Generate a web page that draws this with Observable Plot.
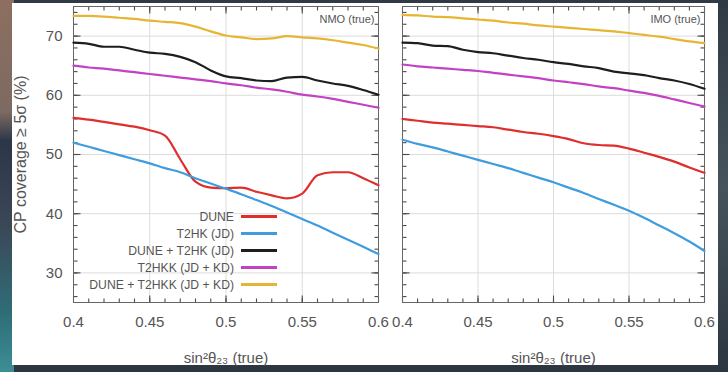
<!DOCTYPE html>
<html>
<head>
<meta charset="utf-8">
<script src="https://cdn.jsdelivr.net/npm/d3@7"></script>
<script src="https://cdn.jsdelivr.net/npm/@observablehq/plot@0.6"></script>
<style>
  html, body { margin: 0; padding: 0; }
  body {
    width: 728px; height: 372px; overflow: hidden;
    background: linear-gradient(#2f3a44, #46525c 50%, #2b3640);
    font-family: "Liberation Sans", Arial, sans-serif;
  }
  #stage { position: relative; width: 728px; height: 372px; }
  #edge {
    position: absolute; left: 0; top: 0; width: 14px; height: 372px;
    background: linear-gradient(#8c6f60 0%, #7d6a62 30%, #2b3648 38%, #3b4656 60%, #2f6f78 85%, #3c8e96 100%);
  }
  #sheet { position: absolute; left: 12px; top: 3px; width: 706px; height: 362px; background: #fff; }
  .panel { position: absolute; top: 0; }
  .panel svg { overflow: visible; }
  #legend {
    position: absolute; left: 60px; top: 208px; width: 217px;
    font-size: 12.2px; color: #555;
  }
  #legend .row { display: flex; justify-content: flex-end; align-items: center; height: 17px; }
  #legend .sw { width: 36px; height: 3px; margin-left: 7px; flex: none; }
</style>
</head>
<body>
<div id="stage">
  <div id="edge"></div>
  <div id="sheet"></div>
  <div id="left" class="panel" style="left:0px"></div>
  <div id="right" class="panel" style="left:390px"></div>
  <div id="legend"></div>
</div>
<script>
// sin^2(theta_23) sample points shared by every curve
const s23 = [0.40, 0.41, 0.42, 0.43, 0.44, 0.45, 0.46, 0.47, 0.48, 0.49, 0.50,
             0.51, 0.52, 0.53, 0.54, 0.55, 0.56, 0.57, 0.58, 0.59, 0.60];

const seriesNames = ["DUNE", "T2HK (JD)", "DUNE + T2HK (JD)", "T2HKK (JD + KD)", "DUNE + T2HKK (JD + KD)"];
const seriesColors = ["#de2f2c", "#3f9ddf", "#1e1e1e", "#c143c4", "#e6b534"];

// CP coverage >= 5 sigma (%), normal mass ordering
const nmoDune      = [56.2, 55.9, 55.5, 55.1, 54.7, 54.1, 53.2, 49.2, 45.4, 44.4, 44.3,
                      44.4, 43.7, 43.1, 42.6, 43.4, 46.5, 47.0, 47.0, 46.0, 44.8];
const nmoT2hk      = [52.0, 51.3, 50.6, 49.9, 49.2, 48.5, 47.7, 47.0, 46.0, 45.1, 44.2,
                      43.3, 42.3, 41.3, 40.2, 39.1, 38.0, 36.8, 35.6, 34.4, 33.2];
const nmoDuneT2hk  = [68.9, 68.7, 68.2, 68.2, 67.7, 67.2, 67.0, 66.5, 65.6, 64.2, 63.2,
                      62.9, 62.5, 62.4, 63.0, 63.1, 62.5, 62.0, 61.6, 60.9, 60.1];
const nmoT2hkk     = [65.0, 64.7, 64.5, 64.2, 63.9, 63.6, 63.3, 63.0, 62.7, 62.4, 62.0,
                      61.7, 61.3, 61.0, 60.6, 60.1, 59.8, 59.4, 58.9, 58.4, 57.9];
const nmoDuneT2hkk = [73.4, 73.4, 73.3, 73.1, 72.9, 72.6, 72.4, 72.2, 71.6, 70.8, 70.1,
                      69.8, 69.5, 69.6, 70.0, 69.8, 69.6, 69.3, 68.9, 68.5, 67.9];

// CP coverage >= 5 sigma (%), inverted mass ordering
const imoDune      = [56.0, 55.7, 55.4, 55.2, 55.0, 54.8, 54.6, 54.2, 53.8, 53.5, 53.1,
                      52.6, 51.9, 51.6, 51.5, 51.0, 50.3, 49.6, 48.8, 47.8, 46.9];
const imoT2hk      = [52.5, 51.8, 51.2, 50.5, 49.8, 49.1, 48.4, 47.7, 46.9, 46.1, 45.3,
                      44.4, 43.5, 42.5, 41.5, 40.5, 39.3, 38.0, 36.7, 35.3, 33.7];
const imoDuneT2hk  = [68.9, 68.8, 68.4, 68.3, 67.7, 67.3, 67.1, 66.7, 66.3, 66.0, 65.6,
                      65.3, 64.9, 64.6, 64.0, 63.7, 63.4, 62.9, 62.5, 61.9, 61.1];
const imoT2hkk     = [65.2, 64.9, 64.7, 64.5, 64.3, 64.1, 63.8, 63.5, 63.2, 62.9, 62.5,
                      62.2, 61.9, 61.5, 61.2, 60.8, 60.4, 59.9, 59.3, 58.7, 58.1];
const imoDuneT2hkk = [73.6, 73.5, 73.3, 73.2, 73.0, 72.8, 72.6, 72.3, 72.1, 71.8, 71.6,
                      71.4, 71.2, 71.0, 70.8, 70.5, 70.2, 69.9, 69.5, 69.1, 68.8];

// axis ticks
const xDomain = [0.4, 0.6];
const yDomain = [25, 75];
const xMajor = [0.4, 0.45, 0.5, 0.55, 0.6];
const xMinor = d3.range(1, 20).map(i => 0.4 + i * 0.01);
const yMajor = [30, 40, 50, 60, 70];
const yMinor = d3.range(26, 75, 2);

function rows(valuesList) {
  return valuesList.flatMap((vals, k) =>
    s23.map((x, i) => ({x, y: vals[i], series: seriesNames[k]})));
}

const tickColor = "#4a4a4a";
const frameHeight = 296;

// short segments on all four frame edges, pointing inwards (length in pixels)
function inwardTicks(xs, ys, len, frameWidth) {
  const dy = len * (yDomain[1] - yDomain[0]) / frameHeight;
  const dx = len * (xDomain[1] - xDomain[0]) / frameWidth;
  const o = {stroke: tickColor, strokeWidth: 1.1};
  return [
    Plot.link(xs, {...o, x1: d => d, x2: d => d, y1: () => yDomain[0], y2: () => yDomain[0] + dy}),
    Plot.link(xs, {...o, x1: d => d, x2: d => d, y1: () => yDomain[1], y2: () => yDomain[1] - dy}),
    Plot.link(ys, {...o, y1: d => d, y2: d => d, x1: () => xDomain[0], x2: () => xDomain[0] + dx}),
    Plot.link(ys, {...o, y1: d => d, y2: d => d, x1: () => xDomain[1], x2: () => xDomain[1] - dx})
  ];
}

function panel({data, tag, frameWidth, marginLeft, marginRight, yLabels}) {
  return Plot.plot({
    width: marginLeft + frameWidth + marginRight,
    height: 372,
    marginTop: 6,
    marginBottom: 70,
    marginLeft,
    marginRight,
    style: {background: "transparent", fontFamily: "'Liberation Sans', Arial, sans-serif", overflow: "visible"},
    x: {domain: xDomain},
    y: {domain: yDomain},
    color: {domain: seriesNames, range: seriesColors},
    marks: [
      Plot.gridX(xMajor, {stroke: "#dcdcdc", strokeOpacity: 1}),
      Plot.gridY(yMajor, {stroke: "#dcdcdc", strokeOpacity: 1}),
      ...inwardTicks(xMinor, yMinor, 4, frameWidth),
      ...inwardTicks(xMajor, yMajor, 7, frameWidth),
      Plot.axisX(xMajor, {
        anchor: "bottom", tickSize: 0, tickPadding: 14,
        tickFormat: d => String(d), fontSize: 15, color: "#555",
        label: "sin²θ₂₃ (true)", labelAnchor: "center", labelArrow: "none", labelOffset: 60
      }),
      yLabels
        ? Plot.axisY(yMajor, {anchor: "left", tickSize: 0, tickPadding: 11, fontSize: 15, color: "#555", label: null})
        : Plot.axisY(yMajor, {anchor: "left", tickSize: 0, tickFormat: () => "", label: null}),
      yLabels
        ? Plot.text(["CP coverage ≥ 5σ (%)"], {frameAnchor: "left", dx: -53, rotate: -90, textAnchor: "middle", fontSize: 16, fill: "#555"})
        : null,
      Plot.frame({stroke: "#666"}),
      Plot.line(data, {x: "x", y: "y", z: "series", stroke: "series", strokeWidth: 2.2, curve: "monotone-x"}),
      Plot.text([tag], {frameAnchor: "top-right", dx: -4, dy: 9, fontSize: 11, fill: "#555", textAnchor: "end"})
    ]
  });
}

document.getElementById("left").append(panel({
  data: rows([nmoDune, nmoT2hk, nmoDuneT2hk, nmoT2hkk, nmoDuneT2hkk]),
  tag: "NMO (true)", frameWidth: 305, marginLeft: 73, marginRight: 12, yLabels: true
}));
document.getElementById("right").append(panel({
  data: rows([imoDune, imoT2hk, imoDuneT2hk, imoT2hkk, imoDuneT2hkk]),
  tag: "IMO (true)", frameWidth: 302, marginLeft: 12, marginRight: 14, yLabels: false
}));

// legend for the five configurations
const legend = document.getElementById("legend");
seriesNames.forEach((name, i) => {
  const row = document.createElement("div");
  row.className = "row";
  const label = document.createElement("span");
  label.textContent = name;
  const sw = document.createElement("span");
  sw.className = "sw";
  sw.style.background = seriesColors[i];
  row.append(label, sw);
  legend.append(row);
});
</script>
</body>
</html>
